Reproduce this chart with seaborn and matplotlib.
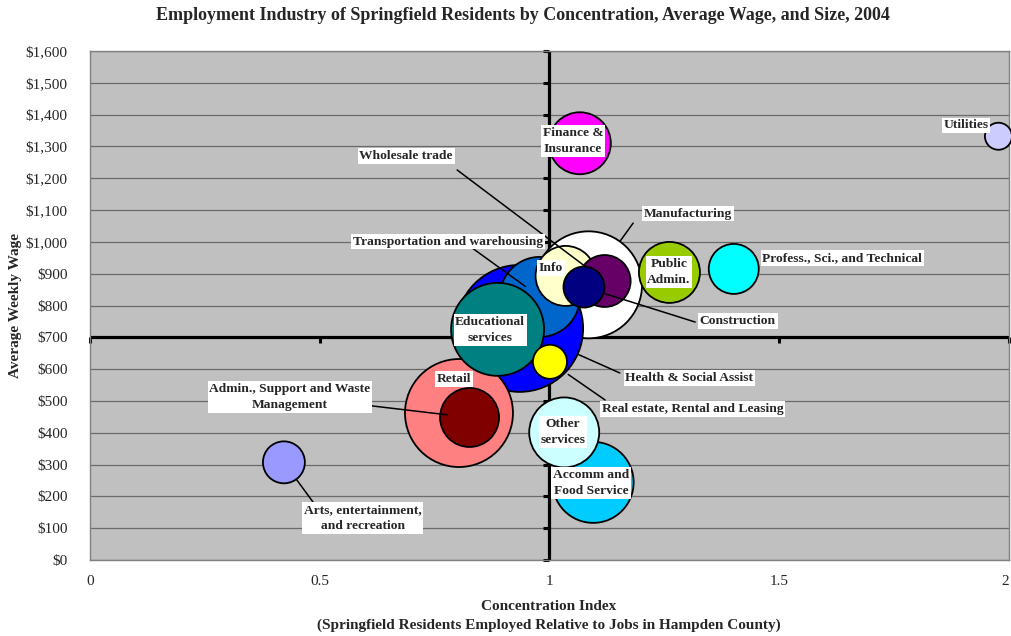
import numpy as np
import pandas as pd
import matplotlib
matplotlib.use("Agg")
import matplotlib.pyplot as plt
from matplotlib.ticker import FuncFormatter
import seaborn as sns

# Industries in drawing order (back to front)
industries = [
    "Manufacturing", "Health & Social Assist", "Retail", "Transportation and warehousing",
    "Educational services", "Accomm and Food Service", "Other services", "Info",
    "Wholesale trade", "Construction", "Admin., Support and Waste Management",
    "Real estate, Rental and Leasing", "Finance & Insurance", "Public Admin.",
    "Profess., Sci., and Technical", "Arts, entertainment, and recreation", "Utilities",
]
concentration = [1.085, 0.935, 0.803, 0.979, 0.887, 1.095, 1.032, 1.035,
                 1.12, 1.075, 0.826, 1.001, 1.066, 1.261, 1.401, 0.422, 1.977]
weekly_wage = [865, 728, 462, 827, 725, 244, 401, 893,
               877, 858, 448, 623, 1310, 904, 915, 307, 1332]
employment = [5720, 8060, 5830, 3200, 4320, 3280, 2450, 1800,
              1350, 840, 1740, 580, 1920, 1860, 1250, 880, 365]
colors = ["#FFFFFF", "#0000FF", "#FF8080", "#0066CC", "#008080", "#00CCFF", "#CCFFFF",
          "#FFFFCC", "#660066", "#000080", "#800000", "#FFFF00", "#FF00FF", "#99CC00",
          "#00FFFF", "#9999FF", "#CCCCFF"]

y_ticks = list(range(0, 1700, 100))
x_ticks = [0, 0.5, 1, 1.5, 2]
x_tick_labels = ["0", "0.5", "1", "1.5", "2"]

# Label text, text centre, leader start (or None), how far into the bubble the leader reaches
labels = {
    "Utilities": ("Utilities", (1.906, 1367), None, 0),
    "Finance & Insurance": ("Finance &\nInsurance", (1.051, 1317), None, 0),
    "Wholesale trade": ("Wholesale trade", (0.688, 1270), (0.799, 1226), 1.0),
    "Manufacturing": ("Manufacturing", (1.301, 1088), (1.182, 1059), 1.0),
    "Transportation and warehousing": ("Transportation and warehousing", (0.779, 1000), (0.820, 993), 0.45),
    "Info": ("Info", (1.003, 918), None, 0),
    "Public Admin.": ("Public\nAdmin.", (1.260, 905), None, 0),
    "Profess., Sci., and Technical": ("Profess., Sci., and Technical", (1.637, 949), None, 0),
    "Construction": ("Construction", (1.410, 751), (1.317, 748), 1.0),
    "Educational services": ("Educational\nservices", (0.871, 723), None, 0),
    "Health & Social Assist": ("Health & Social Assist", (1.304, 572), (1.153, 588), 1.0),
    "Real estate, Rental and Leasing": ("Real estate, Rental and Leasing", (1.312, 475), (1.121, 503), 1.3),
    "Retail": ("Retail", (0.792, 569), None, 0),
    "Admin., Support and Waste Management": ("Admin., Support and Waste\nManagement", (0.435, 512), (0.540, 497), 0.75),
    "Other services": ("Other\nservices", (1.029, 402), None, 0),
    "Accomm and Food Service": ("Accomm and\nFood Service", (1.090, 242), None, 0),
    "Arts, entertainment, and recreation": ("Arts, entertainment,\nand recreation", (0.594, 132), (0.490, 173), 1.0),
}

df = pd.DataFrame({"industry": industries, "concentration": concentration,
                   "wage": weekly_wage, "employment": employment})

sns.set_style("white")
plt.rcParams["font.family"] = ["Liberation Serif", "DejaVu Serif"]

W, H = 1012, 636
fig = plt.figure(figsize=(W / 100, H / 100), dpi=100)
ax = fig.add_axes([90 / W, 1 - 560 / H, 919 / W, 509 / H])
ax.set_facecolor("#C0C0C0")

# bubble area proportional to employment
k = 1.0368
emin, emax = min(employment), max(employment)
sns.scatterplot(data=df, x="concentration", y="wage", hue="industry",
                palette=dict(zip(industries, colors)), size="employment",
                sizes=(k * emin, k * emax), size_norm=(emin, emax),
                edgecolor="black", linewidth=1.3, alpha=1, legend=False,
                ax=ax, zorder=3, clip_on=False)

ax.set_xlim(0, 2)
ax.set_ylim(0, 1600)
ax.set_yticks(y_ticks)
ax.set_xticks(x_ticks)
ax.set_xticklabels(x_tick_labels)
ax.get_xticklabels()[-1].set_ha("right")
ax.yaxis.set_major_formatter(FuncFormatter(lambda v, p: "\\$" + f"{v:,.0f}"))
ax.tick_params(length=0, labelsize=11)
ax.tick_params(axis="y", pad=16)
ax.tick_params(axis="x", pad=11)
ax.grid(axis="y", color="#6a6a6a", lw=0.9)
ax.grid(axis="x", visible=False)
ax.set_axisbelow(True)
for sp in ax.spines.values():
    sp.set_color("#808080")
    sp.set_linewidth(1.0)
ax.set_xlabel("")
ax.set_ylabel("")

# Crossing axes at concentration 1 and $700
ax.axvline(1, color="black", lw=2.3, zorder=2)
ax.axhline(700, color="black", lw=2.3, zorder=2)
ax.plot(np.ones(len(y_ticks)), y_ticks, ls="none", marker=0, ms=4, mew=2.2,
        color="black", zorder=2, clip_on=False)
ax.plot(x_ticks, np.full(len(x_ticks), 700), ls="none", marker=3, ms=4, mew=2.2,
        color="black", zorder=2, clip_on=False)

# Leader lines and labels
radius_pt = {ind: np.sqrt(k * e) / 2 for ind, e in zip(industries, employment)}
for ind, cx, cy in zip(industries, concentration, weekly_wage):
    text, pos, start, reach = labels[ind]
    if start is not None:
        ax.annotate("", xy=(cx, cy), xytext=start,
                    arrowprops=dict(arrowstyle="-", color="black", lw=1.1,
                                    shrinkA=0, shrinkB=reach * radius_pt[ind]),
                    zorder=5, annotation_clip=False)
    ax.text(pos[0], pos[1], text, ha="center", va="center", fontsize=9.7,
            fontweight="bold", linespacing=1.5, zorder=6,
            bbox=dict(boxstyle="square,pad=0.12", fc="white", ec="none"))

fig.text(523 / W, 1 - 16 / H,
         "Employment Industry of Springfield Residents by Concentration, Average Wage, and Size, 2004",
         ha="center", va="center", fontsize=13, fontweight="bold")
fig.text(549 / W, 1 - 616 / H,
         "Concentration Index\n(Springfield Residents Employed Relative to Jobs in Hampden County)",
         ha="center", va="center", fontsize=11, fontweight="bold", linespacing=1.6)
fig.text(16 / W, 1 - 305 / H, "Average Weekly Wage", rotation=90,
         ha="center", va="center", fontsize=11, fontweight="bold")

fig.savefig("out.png", dpi=100)
